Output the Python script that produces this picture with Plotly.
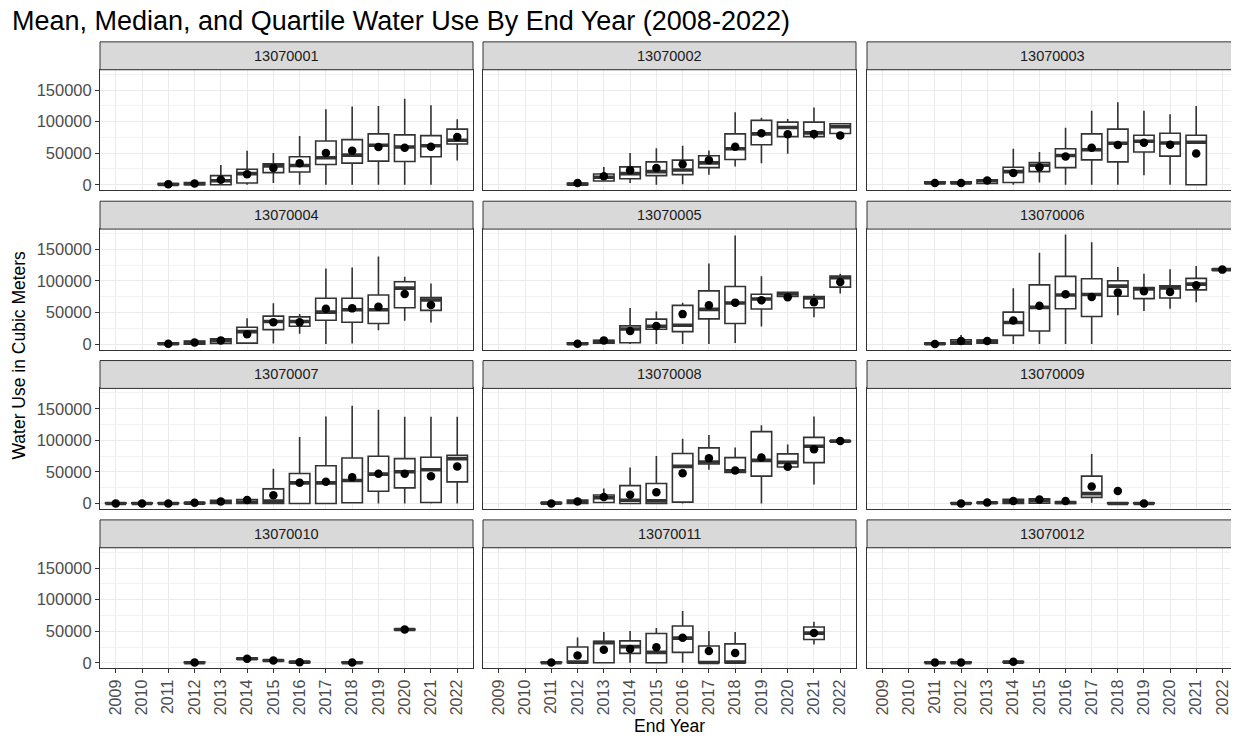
import plotly.graph_objects as go

SITES = ["13070001", "13070002", "13070003", "13070004", "13070005", "13070006",
         "13070007", "13070008", "13070009", "13070010", "13070011", "13070012"]
YEARS = list(range(2009, 2023))
Y_TICKS = [0, 50000, 100000, 150000]

# one entry per box: site index, end year, lower whisker, Q1, median, Q3, upper whisker, mean
site = (
    [0]*12 + [1]*11 + [2]*11 + [3]*11 + [4]*11 + [5]*12 +
    [6]*14 + [7]*12 + [8]*8 + [9]*6 + [10]*9 + [11]*3
)
year = (
    list(range(2011, 2023)) +
    list(range(2012, 2023)) +
    list(range(2011, 2022)) +
    list(range(2011, 2022)) +
    list(range(2012, 2023)) +
    list(range(2011, 2023)) +
    list(range(2009, 2023)) +
    list(range(2011, 2023)) +
    list(range(2012, 2020)) +
    [2012, 2014, 2015, 2016, 2018, 2020] +
    [2011, 2012, 2013, 2014, 2015, 2016, 2017, 2018, 2021] +
    [2011, 2012, 2014]
)
lo = [
    0, 0, 0, 0, 2700, 0, 0, 0, 0, 0, 0, 38400,
    0, 5000, 2700, 0, 1000, 16000, 28800, 34200, 49100, 72000, 80000,
    1500, 1500, 1500, 0, 3700, 0, 0, 0, 14900, 0, 0,
    0, 0, 1000, 0, 1000, 16500, 0, 1000, 21900, 36800, 34200,
    0, 1500, 0, 0, 0, 0, 1600, 27800, 73000, 42700, 80100,
    0, 0, 1600, 0, 0, 0, 0, 45900, 52300, 56000, 66200, 117000,
    0, 0, 0, 0, 0, 0, 0, 0, 0, 0, 0, 0, 0, 0,
    0, 0, 1600, 0, 0, 0, 53400, 47500, 0, 53400, 29900, 97800,
    0, 500, 0, 500, 0, 1000, 0, 0,
    0, 5500, 3000, 0, 0, 52000,
    0, 0, 0, 0, 0, 0, 0, 0, 28800,
    0, 0, 500,
]
q1 = [
    0, 0, 0, 2700, 19200, 20300, 32000, 34200, 37400, 36800, 44300, 64600,
    0, 6000, 9600, 14400, 16000, 27200, 40000, 63500, 76300, 76300, 81100,
    2000, 2000, 2000, 3700, 20800, 27200, 39500, 36300, 51800, 45400, 0,
    0, 0, 1000, 1600, 23000, 28300, 37900, 34700, 32600, 57700, 53400,
    0, 1500, 2100, 23500, 19700, 40000, 32600, 55500, 75300, 57700, 90200,
    0, 0, 1600, 13900, 20800, 56000, 43800, 75800, 72100, 73100, 85900, 117000,
    0, 0, 0, 0, 0, 0, 0, 0, 0, 1000, 19200, 24600, 1600, 34200,
    0, 0, 1600, 0, 0, 2100, 62500, 49100, 43200, 57700, 64600, 98300,
    0, 500, 0, 500, 0, 9600, 0, 0,
    0, 5500, 3000, 0, 0, 52000,
    0, 0, 0, 14900, 0, 16500, 0, 0, 36800,
    0, 0, 500,
]
med = [
    500, 1500, 6400, 17600, 29900, 30400, 42700, 47000, 62500, 59800, 61900, 70500,
    1000, 12000, 17600, 20800, 23500, 34700, 57100, 80600, 90700, 82200, 91800,
    3000, 3000, 6400, 20800, 30900, 46400, 55500, 65700, 68900, 66200, 67300,
    500, 2500, 5500, 19700, 35800, 35800, 50700, 54400, 54400, 88600, 69900,
    500, 4000, 24000, 28300, 29900, 55000, 65100, 71500, 79500, 73100, 105200,
    500, 3000, 4500, 34200, 58200, 77900, 78500, 91800, 87500, 89100, 95000, 118000,
    0, 0, 0, 500, 2500, 2000, 3700, 32600, 32600, 36300, 46400, 50200, 53400, 71000,
    500, 2000, 9000, 5000, 4000, 58700, 65700, 51800, 68300, 65100, 90700, 98800,
    0, 1000, 3500, 5000, 1500, 15500, 0, 0,
    0, 6400, 3700, 1000, 0, 52800,
    0, 1000, 32000, 25600, 16500, 39000, 500, 1000, 47000,
    0, 0, 1000,
]
q3 = [
    2000, 3500, 14400, 24500, 33100, 44300, 69400, 71500, 80600, 79000, 77900, 88100,
    2500, 17000, 28300, 36300, 39000, 45900, 80600, 102000, 99300, 99300, 96600,
    4500, 4500, 8000, 27800, 35200, 57100, 80600, 88100, 78500, 81700, 78500,
    2000, 5000, 8500, 26700, 44300, 43200, 72600, 72600, 77900, 98800, 73700,
    2000, 6000, 28800, 39500, 61400, 84300, 91300, 79000, 82200, 75300, 107800,
    1500, 6900, 6400, 50700, 93900, 107300, 103600, 100400, 89700, 92300, 104100, 119000,
    1000, 1000, 1000, 1500, 5000, 6000, 23000, 47500, 59800, 72100, 74700, 71000, 73100, 76300,
    1500, 5300, 13300, 28300, 31500, 79000, 88100, 72600, 113700, 78500, 104600, 99300,
    1000, 2000, 6400, 7500, 2500, 43200, 1000, 1000,
    1000, 7500, 4500, 2000, 1000, 53500,
    1000, 25100, 34200, 34700, 46400, 58200, 26700, 29900, 56600,
    1000, 1000, 2000,
]
hi = [
    3000, 5000, 31500, 54000, 50200, 77400, 119600, 123800, 124900, 136100, 126000, 103600,
    3000, 28000, 50200, 57700, 61900, 54400, 114800, 106200, 104100, 122200, 97000,
    5000, 5000, 9000, 57100, 51800, 90200, 117400, 130800, 117400, 111600, 124900,
    2500, 6000, 9500, 41100, 64600, 47500, 119600, 121200, 138800, 106800, 96100,
    2500, 7000, 57100, 51800, 65700, 127600, 171900, 107300, 83000, 79500, 111600,
    1500, 14400, 7000, 88600, 144700, 173500, 161200, 122200, 111600, 118500, 123800, 119000,
    1000, 1000, 1000, 1500, 5000, 6000, 55000, 105200, 137700, 154800, 148400, 137200, 137200, 137200,
    1500, 5300, 23500, 57100, 75300, 102500, 108400, 88600, 123800, 93400, 137700, 99800,
    1000, 2000, 6400, 7500, 2500, 78500, 1000, 1000,
    1000, 7500, 4500, 2000, 1000, 53500,
    1000, 40000, 48600, 50200, 55000, 82200, 50200, 48600, 65100,
    1000, 1000, 2000,
]
mean = [
    1000, 2000, 8000, 16500, 26700, 34200, 50200, 53900, 59800, 58700, 60300, 75800,
    2700, 13300, 23000, 26700, 32600, 39000, 60300, 81700, 80100, 80600, 77900,
    2700, 2700, 6900, 18700, 27800, 44800, 58700, 63000, 66700, 63500, 49600,
    500, 2700, 5900, 15500, 34700, 34700, 56000, 56600, 59200, 79500, 61900,
    500, 5900, 20800, 28800, 47500, 61400, 65700, 69400, 74200, 66200, 98200,
    0, 4800, 4800, 37400, 60900, 79000, 74700, 81700, 83800, 82700, 93400, 118000,
    0, 0, 0, 1200, 3200, 5300, 12800, 32600, 34200, 41600, 47000, 47000, 43200, 58700,
    0, 3200, 10100, 13900, 17600, 48000, 71500, 52300, 72600, 58200, 85900, 98800,
    0, 1500, 3700, 6400, 3700, 26700, 19700, 0,
    500, 6400, 3700, 1000, 300, 52800,
    500, 11700, 20800, 21900, 24600, 39500, 18700, 15500, 47000,
    300, 300, 1500,
]

# The page places the figure 8 px from the top-left corner (body margin),
# so the figure is drawn 8 px smaller and all pixel positions are shifted.
OFF = 8
W, H = 1239 - OFF, 740 - OFF
COL_L = [100 - OFF, 483 - OFF, 867 - OFF]
COL_R = [473 - OFF, 856 - OFF, 1238 - OFF]
ROW_T = [70 - OFF, 230 - OFF, 390 - OFF, 550 - OFF]
ROW_B = [191 - OFF, 351 - OFF, 511 - OFF, 671 - OFF]
STRIP_H = 28
BOX_W = 0.78
FONT = "Liberation Sans"
DARK = "#333333"

fig = go.Figure()
layout = {}
shapes = []
annotations = []

for i, name in enumerate(SITES):
    r, c = divmod(i, 3)
    n = i + 1
    xa = "x" if n == 1 else f"x{n}"
    ya = "y" if n == 1 else f"y{n}"
    idx = [k for k, s in enumerate(site) if s == i]
    xs = [year[k] for k in idx]

    fig.add_trace(go.Box(
        x=xs, q1=[q1[k] for k in idx], median=[med[k] for k in idx],
        q3=[q3[k] for k in idx], lowerfence=[lo[k] for k in idx],
        upperfence=[hi[k] for k in idx], width=BOX_W, whiskerwidth=0,
        fillcolor="white", line=dict(color=DARK, width=1.6),
        boxpoints=False, showlegend=False, xaxis=xa, yaxis=ya,
    ))
    mx, my = [], []
    for k in idx:
        mx += [year[k] - BOX_W / 2, year[k] + BOX_W / 2, None]
        my += [med[k], med[k], None]
    fig.add_trace(go.Scatter(
        x=mx, y=my, mode="lines", line=dict(color=DARK, width=3.6),
        showlegend=False, hoverinfo="skip", xaxis=xa, yaxis=ya,
    ))
    fig.add_trace(go.Scatter(
        x=xs, y=[mean[k] for k in idx], mode="markers",
        marker=dict(color="black", size=8.5), showlegend=False,
        xaxis=xa, yaxis=ya,
    ))

    xkey = "xaxis" if n == 1 else f"xaxis{n}"
    ykey = "yaxis" if n == 1 else f"yaxis{n}"
    layout[xkey] = dict(
        domain=[COL_L[c] / W, COL_R[c] / W], anchor=ya,
        range=[YEARS[0] - 0.6, YEARS[-1] + 0.6],
        tickvals=YEARS, ticktext=[str(v) for v in YEARS],
        showticklabels=(r == 3), ticks="outside" if r == 3 else "",
        ticklen=4, tickcolor=DARK, tickangle=-90,
        tickfont=dict(family=FONT, size=16, color="#4D4D4D"),
        showgrid=True, gridcolor="#EBEBEB", gridwidth=1.3, zeroline=False,
        showline=True, mirror=True, linecolor=DARK, linewidth=1,
    )
    layout[ykey] = dict(
        domain=[1 - ROW_B[r] / H, 1 - ROW_T[r] / H], anchor=xa,
        range=[-8700, 182200], tickvals=Y_TICKS,
        ticktext=[str(v) for v in Y_TICKS],
        showticklabels=(c == 0), ticks="outside" if c == 0 else "",
        ticklen=4, tickcolor=DARK,
        tickfont=dict(family=FONT, size=16.5, color="#4D4D4D"),
        showgrid=True, gridcolor="#EBEBEB", gridwidth=1.3, zeroline=False,
        minor=dict(tickvals=[25000, 75000, 125000, 175000], showgrid=True,
                   gridcolor="#F2F2F2", gridwidth=0.8, ticks=""),
        showline=True, mirror=True, linecolor=DARK, linewidth=1,
    )
    shapes.append(dict(
        type="rect", xref="paper", yref="paper",
        x0=COL_L[c] / W, x1=COL_R[c] / W,
        y0=1 - ROW_T[r] / H, y1=1 - (ROW_T[r] - STRIP_H) / H,
        fillcolor="#D9D9D9", line=dict(color=DARK, width=1), layer="above",
    ))
    annotations.append(dict(
        text=name, xref="paper", yref="paper",
        x=(COL_L[c] + COL_R[c]) / 2 / W, y=1 - (ROW_T[r] - STRIP_H / 2) / H,
        showarrow=False, xanchor="center", yanchor="middle",
        font=dict(family=FONT, size=14.5, color="#1A1A1A"),
    ))

annotations.append(dict(
    text="Water Use in Cubic Meters", xref="paper", yref="paper",
    x=(19 - OFF) / W, y=1 - (357 - OFF) / H, textangle=-90, showarrow=False,
    xanchor="center", yanchor="middle",
    font=dict(family=FONT, size=17.5, color="black"),
))
annotations.append(dict(
    text="End Year", xref="paper", yref="paper",
    x=(COL_L[0] + COL_R[2]) / 2 / W, y=1 - (729 - OFF) / H, showarrow=False,
    xanchor="center", yanchor="middle",
    font=dict(family=FONT, size=17.5, color="black"),
))

fig.update_layout(
    width=W, height=H, margin=dict(l=0, r=0, t=0, b=0),
    paper_bgcolor="white", plot_bgcolor="white",
    title=dict(text="Mean, Median, and Quartile Water Use By End Year (2008-2022)",
               x=(12 - OFF) / W, xanchor="left", y=1 - (21 - OFF) / H, yanchor="middle",
               font=dict(family=FONT, size=27, color="black")),
    shapes=shapes, annotations=annotations, boxmode="overlay",
    **layout,
)

fig.write_html("out.html")
